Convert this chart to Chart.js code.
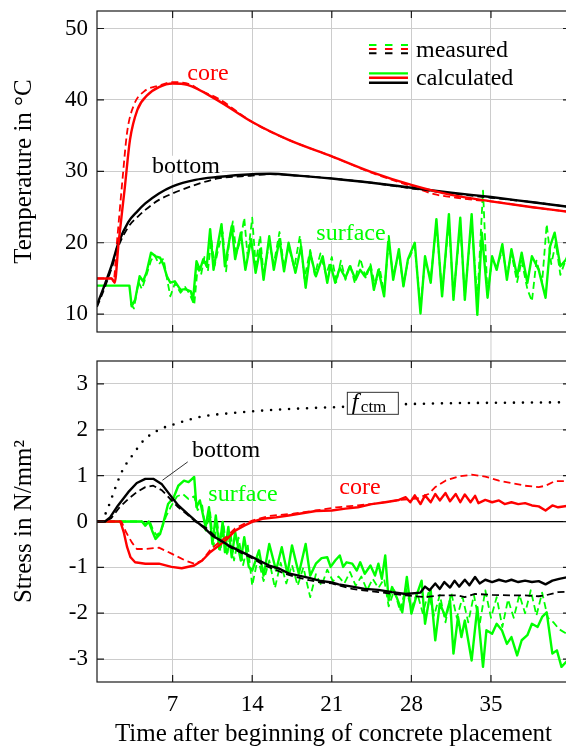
<!DOCTYPE html>
<html><head><meta charset="utf-8">
<script src="https://cdn.jsdelivr.net/npm/chart.js@4.4.1/dist/chart.umd.min.js"></script>
<style>
html,body{margin:0;padding:0;background:#fff;}
body{width:566px;height:747px;overflow:hidden;position:relative;}
canvas{position:absolute;left:0;}
#top{top:0}
#bot{top:340px}
</style></head><body>
<canvas id="top" width="570" height="340"></canvas>
<canvas id="bot" width="570" height="407"></canvas>
<script>
// ---------- tick labels ----------
const dayTicks = [7, 14, 21, 28, 35];
const tempTicks = [10, 20, 30, 40, 50];
const stressTicks = [-3, -2, -1, 0, 1, 2, 3];

// ---------- temperature [day, degC] ----------
const tempCoreCalc = [[0.35,15.0],[1.65,15.0],[1.9,14.4],[2.25,20.0],[2.8,27.8],[3.25,34.4],[3.9,38.6],[4.8,40.7],[5.8,41.8],[7.0,42.3],[8.3,42.1],[10.9,40.0],[14.0,36.9],[17.2,34.4],[21.0,32.1],[24.5,29.9],[28.0,28.1],[31.5,26.7],[35.0,25.8],[38.5,25.0],[42.0,24.3]];
const tempCoreMeas = [[0.35,15.0],[1.6,15.0],[1.8,14.6],[2.1,20.0],[2.6,29.0],[3.0,35.5],[3.6,39.3],[4.5,41.2],[5.8,42.0],[7.0,42.5],[8.5,42.2],[9.5,41.3],[11.0,40.2],[14.0,36.9],[17.2,34.4],[21.0,32.1],[24.5,29.8],[28.0,27.9],[30.0,26.8],[32.0,26.3],[33.5,26.0],[35.0,25.8],[38.5,25.0],[42.0,24.3]];
const tempBottomCalc = [[0.35,11.3],[1.0,14.0],[1.65,16.9],[2.24,20.0],[3.1,22.9],[3.9,24.4],[4.6,25.5],[5.8,26.9],[7.0,27.9],[9.0,28.8],[10.9,29.2],[14.0,29.6],[15.6,29.65],[18.0,29.4],[21.0,29.0],[24.5,28.4],[28.0,27.7],[31.5,27.0],[35.0,26.4],[38.5,25.7],[42.0,25.0]];
const tempBottomMeas = [[0.35,11.0],[1.0,13.6],[1.65,16.5],[2.24,19.5],[3.1,22.2],[3.9,23.6],[4.6,24.6],[5.8,26.0],[7.0,26.9],[9.0,28.1],[11.0,29.0],[14.0,29.4],[15.6,29.6],[18.0,29.4],[21.0,29.0],[24.5,28.4],[28.0,27.6],[31.5,26.9],[35.0,26.3],[38.5,25.7],[42.0,25.0]];
const tempSurfaceCalc = [[0.35,14.0],[3.2,14.0],[3.4,11.1],[3.7,12.0],[4.1,15.3],[4.4,14.6],[4.7,15.8],[5.1,18.6],[5.5,18.1],[5.9,17.9],[6.2,16.9],[6.5,15.3],[6.8,14.4],[7.2,14.6],[7.7,13.4],[8.1,13.5],[8.6,13.2],[8.8,12.0],[9.1,17.4],[9.4,16.2],[9.7,17.7],[10.0,16.7],[10.3,21.9],[10.6,16.2],[10.9,19.1],[11.3,22.6],[11.6,16.7],[11.9,19.5],[12.2,22.3],[12.5,17.7],[13.0,21.4],[13.4,16.2],[13.9,20.5],[14.3,15.8],[14.7,19.1],[15.0,14.8],[15.5,20.9],[15.9,16.2],[16.4,20.5],[16.8,16.0],[17.2,20.0],[17.8,15.8],[18.3,19.5],[18.7,13.7],[19.1,18.6],[19.6,15.3],[20.2,18.1],[20.6,14.4],[20.9,16.9],[21.3,14.4],[21.7,16.5],[22.2,15.1],[22.6,16.7],[23.1,14.8],[23.5,16.2],[23.9,15.3],[24.4,16.7],[24.7,13.4],[25.1,16.2],[25.6,12.5],[26.0,20.9],[26.4,14.8],[26.9,19.1],[27.3,13.9],[27.7,17.7],[28.3,20.0],[28.8,10.1],[29.2,18.1],[29.7,14.4],[30.2,23.3],[30.7,12.5],[31.3,24.0],[31.7,12.0],[32.3,23.5],[32.7,12.0],[33.3,24.0],[33.8,9.9],[34.2,21.4],[34.7,12.3],[35.1,18.1],[35.5,16.2],[36.0,19.8],[36.4,14.8],[36.8,19.1],[37.3,15.3],[37.7,18.6],[38.2,14.4],[38.6,18.1],[39.2,16.2],[39.8,12.3],[40.2,19.5],[40.6,21.4],[41.1,16.7],[42.0,18.4]];
const tempSurfaceMeas = [[3.3,11.5],[3.6,10.8],[4.0,14.5],[4.3,13.5],[4.7,15.5],[5.1,17.5],[5.4,18.3],[5.8,17.0],[6.2,17.8],[6.5,15.0],[6.8,12.5],[7.2,14.3],[7.7,13.0],[8.1,13.8],[8.5,12.8],[8.9,11.3],[9.2,16.5],[9.5,15.5],[9.8,18.0],[10.1,16.0],[10.4,20.5],[10.7,16.8],[11.0,19.0],[11.4,21.5],[11.7,16.0],[12.0,20.5],[12.3,23.0],[12.6,18.5],[13.0,20.5],[13.3,23.5],[13.6,18.0],[14.0,23.5],[14.3,17.0],[14.7,21.0],[15.0,15.5],[15.5,20.0],[15.9,17.0],[16.4,21.5],[16.8,16.5],[17.2,19.5],[17.7,16.5],[18.2,21.0],[18.6,15.0],[19.1,19.0],[19.5,15.5],[20.0,18.5],[20.5,15.5],[21.0,18.0],[21.4,14.5],[21.8,17.5],[22.2,14.8],[22.6,17.0],[23.0,14.5],[23.5,17.8],[24.0,15.0],[24.4,17.0],[24.8,14.0],[25.2,16.5],[25.6,13.0],[26.0,20.0],[26.4,15.5],[26.9,18.5],[27.3,14.0],[27.7,17.5],[28.3,19.5],[28.8,11.0],[29.2,17.5],[29.7,15.0],[30.2,22.5],[30.7,13.0],[31.3,23.0],[31.7,12.5],[32.3,22.5],[32.7,12.5],[33.3,23.0],[33.8,12.0],[34.3,27.3],[34.7,12.5],[35.1,18.0],[35.5,16.5],[36.0,19.0],[36.4,15.5],[36.8,18.5],[37.3,14.5],[37.7,17.5],[38.2,13.5],[38.6,11.8],[39.0,17.5],[39.5,14.5],[39.9,22.6],[40.3,17.0],[40.7,20.0],[41.1,15.5],[42.0,19.5]];

// ---------- stress [day, N/mm2] ----------
const stressBottomCalc = [[0.35,0],[1.06,0],[1.5,0.09],[2.2,0.35],[3.1,0.64],[3.85,0.84],[4.6,0.93],[5.3,0.93],[6.06,0.81],[6.8,0.57],[7.5,0.35],[8.3,0.17],[9.0,0.02],[9.7,-0.12],[10.5,-0.31],[11.2,-0.41],[11.9,-0.52],[12.8,-0.63],[13.7,-0.74],[14.6,-0.85],[15.5,-0.96],[16.4,-1.03],[17.2,-1.13],[18.1,-1.18],[19.0,-1.23],[19.9,-1.29],[21.0,-1.33],[21.6,-1.37],[22.8,-1.42],[23.9,-1.47],[25.1,-1.49],[26.3,-1.54],[27.5,-1.58],[28.8,-1.55],[29.2,-1.42],[29.6,-1.5],[30.1,-1.35],[30.5,-1.47],[30.9,-1.32],[31.4,-1.44],[31.8,-1.29],[32.2,-1.42],[32.7,-1.27],[33.1,-1.39],[33.6,-1.21],[34.0,-1.35],[34.5,-1.27],[35.1,-1.32],[35.7,-1.27],[36.3,-1.31],[36.8,-1.27],[37.4,-1.32],[38.0,-1.29],[38.6,-1.32],[39.2,-1.3],[39.8,-1.37],[40.4,-1.29],[41.0,-1.25],[42.0,-1.2]];
const stressBottomMeas = [[0.35,0],[1.1,0],[1.6,0.07],[2.3,0.3],[3.1,0.49],[3.85,0.64],[4.6,0.75],[5.3,0.78],[6.06,0.68],[6.8,0.49],[7.5,0.31],[8.3,0.15],[9.0,0.0],[10.0,-0.15],[11.0,-0.38],[12.0,-0.55],[13.0,-0.68],[14.0,-0.8],[15.0,-0.95],[16.0,-1.05],[17.0,-1.15],[18.0,-1.22],[19.0,-1.28],[20.0,-1.33],[21.0,-1.35],[22.8,-1.47],[25.1,-1.54],[27.5,-1.61],[29.2,-1.65],[30.5,-1.61],[32.1,-1.61],[32.7,-1.65],[33.6,-1.58],[35.1,-1.6],[36.8,-1.61],[38.0,-1.61],[39.2,-1.63],[39.8,-1.61],[40.9,-1.54],[42.0,-1.53]];
const stressCoreCalc = [[0.35,0],[2.4,0],[2.7,-0.23],[3.0,-0.56],[3.3,-0.78],[3.7,-0.89],[4.6,-0.92],[5.8,-0.92],[6.9,-0.99],[7.8,-1.02],[8.9,-0.96],[9.6,-0.85],[10.3,-0.67],[11.1,-0.52],[11.8,-0.38],[12.5,-0.2],[13.3,-0.09],[14.0,-0.01],[14.9,0.06],[16.1,0.09],[17.2,0.13],[18.4,0.18],[19.6,0.23],[21.0,0.24],[22.2,0.28],[23.3,0.31],[24.5,0.38],[25.7,0.42],[26.9,0.47],[27.5,0.53],[27.9,0.42],[28.3,0.57],[28.8,0.38],[29.2,0.57],[29.7,0.42],[30.1,0.6],[30.5,0.46],[31.0,0.62],[31.4,0.44],[31.9,0.6],[32.3,0.42],[32.7,0.59],[33.2,0.42],[33.6,0.56],[33.9,0.4],[34.5,0.47],[35.1,0.42],[35.7,0.46],[36.2,0.38],[36.8,0.42],[37.4,0.38],[38.0,0.4],[38.6,0.35],[39.2,0.33],[39.8,0.24],[40.4,0.35],[40.9,0.31],[42.0,0.35]];
const stressCoreMeas = [[0.35,0],[2.5,0],[2.9,-0.23],[3.4,-0.45],[3.85,-0.6],[4.6,-0.6],[5.8,-0.57],[6.9,-0.7],[8.1,-0.85],[8.9,-0.92],[9.6,-0.85],[10.3,-0.62],[11.1,-0.45],[11.8,-0.32],[12.5,-0.15],[13.3,-0.05],[14.0,0.02],[15.5,0.12],[17.6,0.17],[19.6,0.24],[21.4,0.31],[23.3,0.35],[25.1,0.4],[26.9,0.47],[28.5,0.5],[29.5,0.6],[30.1,0.75],[31.0,0.89],[32.1,0.98],[33.3,1.02],[34.5,0.98],[35.7,0.89],[36.8,0.84],[38.0,0.78],[39.2,0.75],[39.8,0.78],[40.6,0.88],[42.0,0.88]];
const stressSurfaceCalc = [[0.35,0],[4.3,0],[4.6,-0.09],[4.9,0],[5.2,-0.2],[5.5,-0.38],[5.9,-0.27],[6.2,-0.01],[6.6,0.38],[7.1,0.53],[7.5,0.78],[8.0,0.89],[8.4,0.86],[8.9,0.97],[9.1,0.31],[9.4,0.46],[9.9,-0.12],[10.2,0.31],[10.5,-0.49],[10.8,0.13],[11.1,-0.6],[11.4,-0.01],[11.6,-0.67],[11.9,-0.12],[12.2,-0.78],[12.5,-0.23],[13.0,-0.85],[13.3,-0.34],[13.7,-0.99],[14.0,-1.07],[14.6,-0.63],[15.0,-1.18],[15.5,-0.49],[16.1,-1.07],[16.6,-0.56],[17.1,-1.14],[17.5,-0.52],[18.1,-1.14],[18.7,-0.49],[19.1,-1.18],[19.6,-0.92],[20.1,-0.8],[20.6,-0.78],[20.9,-0.99],[21.3,-0.85],[21.7,-0.74],[22.0,-0.99],[22.3,-0.89],[22.8,-0.92],[23.2,-1.07],[23.5,-0.89],[23.9,-1.14],[24.4,-0.96],[24.8,-1.18],[25.1,-0.92],[25.4,-1.25],[25.7,-0.74],[26.0,-1.72],[26.3,-1.43],[26.7,-1.65],[27.2,-1.98],[27.6,-1.21],[28.0,-2.01],[28.5,-1.58],[28.9,-1.29],[29.2,-2.23],[29.7,-1.5],[30.1,-2.59],[30.5,-1.79],[31.0,-2.08],[31.4,-1.72],[31.7,-2.88],[32.1,-2.08],[32.4,-2.52],[32.7,-2.16],[33.3,-3.03],[33.8,-1.87],[34.3,-3.17],[34.6,-2.37],[35.1,-2.45],[35.5,-2.23],[35.96,-2.37],[36.4,-2.67],[36.8,-2.52],[37.3,-2.92],[37.7,-2.59],[38.2,-2.48],[38.6,-2.23],[39.1,-2.3],[39.5,-2.08],[39.9,-1.98],[40.4,-2.88],[40.8,-2.81],[41.2,-3.17],[42.0,-2.96]];
const stressSurfaceMeas = [[0.35,0],[4.3,0],[4.6,-0.05],[5.0,0],[5.3,-0.2],[5.6,-0.3],[6.0,-0.2],[6.4,0.1],[6.9,0.35],[7.4,0.55],[7.9,0.6],[8.4,0.49],[8.9,0.55],[9.2,0.25],[9.6,0.35],[9.9,-0.2],[10.3,0.2],[10.6,-0.55],[10.9,0.05],[11.2,-0.65],[11.5,-0.1],[11.8,-0.75],[12.1,-0.25],[12.4,-0.85],[12.8,-0.35],[13.2,-0.95],[13.6,-0.5],[14.0,-1.4],[14.5,-0.8],[15.0,-1.3],[15.5,-0.85],[16.0,-1.45],[16.5,-0.9],[17.0,-1.35],[17.5,-0.95],[18.0,-1.4],[18.5,-1.0],[19.1,-1.65],[19.6,-1.15],[20.1,-1.4],[20.6,-1.05],[21.1,-1.3],[21.6,-1.2],[22.1,-1.35],[22.6,-1.1],[23.1,-1.4],[23.6,-1.2],[24.1,-1.5],[24.6,-1.25],[25.1,-1.45],[25.6,-1.25],[26.0,-1.85],[26.5,-1.5],[27.0,-1.95],[27.5,-1.45],[28.0,-1.9],[28.5,-1.55],[29.0,-2.0],[29.5,-1.55],[30.0,-2.05],[30.5,-1.6],[31.0,-2.2],[31.5,-1.55],[32.0,-2.1],[32.5,-1.65],[33.0,-2.2],[33.5,-1.6],[34.0,-2.25],[34.5,-1.5],[35.0,-2.1],[35.5,-1.65],[36.0,-2.3],[36.5,-1.7],[37.0,-2.1],[37.5,-1.6],[38.0,-2.0],[38.5,-1.5],[39.0,-2.05],[39.5,-1.55],[40.0,-2.1],[40.5,-2.2],[41.0,-2.35],[42.0,-2.5]];
const fctm = [[0.8,0],[1.35,0.32],[2.0,0.76],[2.6,1.12],[3.6,1.49],[4.5,1.78],[5.8,2.0],[7.4,2.14],[9.6,2.29],[12.5,2.37],[15.6,2.43],[18.8,2.47],[22.0,2.5],[27.7,2.56],[31.5,2.58],[36.3,2.59],[42.0,2.6]];

// ---------- styling ----------
const RED = '#ff0000', GREEN = '#00ff00', BLACK = '#000000';
const FONT = '"Liberation Serif", "Times New Roman", serif';
const GRID = '#cccccc';
const X_MIN = 0.35, X_MAX = 41.95;

Chart.defaults.font.family = FONT;
Chart.defaults.color = '#000';

function ds(data, color, opt) {
  return Object.assign({
    data: data.map(p => ({ x: p[0], y: p[1] })),
    borderColor: color, borderWidth: 2.4, pointRadius: 0, fill: false,
    tension: 0, borderJoinStyle: 'round', borderCapStyle: 'butt'
  }, opt || {});
}
const SMOOTH = { cubicInterpolationMode: 'monotone' };
const MEAS = { borderWidth: 1.8, borderDash: [7, 4] };

function framePlugin(yTicksArr) {
  return {
    id: 'frame',
    afterDatasetsDraw(chart) {
      const { ctx, chartArea: a, scales: { x, y } } = chart;
      ctx.save();
      ctx.strokeStyle = '#1a1a1a';
      ctx.lineWidth = 1.2;
      ctx.strokeRect(a.left, a.top, a.right - a.left, a.bottom - a.top);
      ctx.beginPath();
      dayTicks.forEach(v => {
        const px = x.getPixelForValue(v);
        ctx.moveTo(px, a.top); ctx.lineTo(px, a.top + 7);
        ctx.moveTo(px, a.bottom); ctx.lineTo(px, a.bottom - 7);
      });
      yTicksArr.forEach(v => {
        const py = y.getPixelForValue(v);
        ctx.moveTo(a.left, py); ctx.lineTo(a.left + 7, py);
        ctx.moveTo(a.right, py); ctx.lineTo(a.right - 7, py);
      });
      ctx.stroke();
      ctx.restore();
    }
  };
}
function gapGridPlugin(isTop) {
  return {
    id: 'gapGrid',
    afterDraw(chart) {
      const { ctx, chartArea: a, scales: { x } } = chart;
      ctx.save();
      ctx.strokeStyle = GRID; ctx.lineWidth = 1;
      ctx.beginPath();
      dayTicks.forEach(v => {
        const px = x.getPixelForValue(v);
        if (isTop) { ctx.moveTo(px, a.bottom + 1); ctx.lineTo(px, chart.height); }
        else { ctx.moveTo(px, 0); ctx.lineTo(px, a.top - 1); }
      });
      ctx.stroke();
      ctx.restore();
    }
  };
}
function drawText(ctx, text, px, py, color, size, bg, align) {
  ctx.font = size + 'px ' + FONT;
  const w = ctx.measureText(text).width;
  const left = align === 'left' ? px : px - w / 2;
  if (bg) { ctx.fillStyle = '#fff'; ctx.fillRect(left - 2, py - size * 0.72, w + 4, size * 0.76); }
  ctx.fillStyle = color; ctx.textAlign = 'left'; ctx.textBaseline = 'alphabetic';
  ctx.fillText(text, left, py);
}
function annotPlugin(items) {
  return {
    id: 'annot',
    afterDatasetsDraw(chart) {
      const { ctx, scales: { x, y } } = chart;
      ctx.save();
      items.forEach(it => {
        if (it.type === 'text') {
          drawText(ctx, it.text, x.getPixelForValue(it.x), y.getPixelForValue(it.y), it.color, it.size || 24, it.bg, it.align);
        } else if (it.type === 'line') {
          ctx.strokeStyle = it.color; ctx.lineWidth = it.width; ctx.setLineDash(it.dash || []);
          ctx.lineCap = it.cap || 'butt';
          ctx.beginPath();
          ctx.moveTo(x.getPixelForValue(it.x1), y.getPixelForValue(it.y1));
          ctx.lineTo(x.getPixelForValue(it.x2), y.getPixelForValue(it.y2));
          ctx.stroke();
          ctx.setLineDash([]);
        } else if (it.type === 'fbox') {
          const cx = x.getPixelForValue(it.x), cy = y.getPixelForValue(it.y);
          const w = 52, h = 23;
          ctx.fillStyle = '#fff'; ctx.fillRect(cx - w / 2, cy - h / 2, w, h);
          ctx.strokeStyle = '#333'; ctx.lineWidth = 1; ctx.strokeRect(cx - w / 2 + 0.5, cy - h / 2 + 0.5, w - 1, h - 1);
          ctx.fillStyle = '#000'; ctx.textBaseline = 'alphabetic'; ctx.textAlign = 'left';
          ctx.font = 'italic 24px ' + FONT;
          ctx.fillText('f', cx - 21, cy + 6);
          ctx.font = '17px ' + FONT;
          ctx.fillText('ctm', cx - 12, cy + 9);
        }
      });
      ctx.restore();
    }
  };
}

function makeOptions(cfg) {
  return {
    responsive: false, animation: false, devicePixelRatio: 1,
    layout: { padding: { top: cfg.padTop, right: 0, bottom: 0, left: 0 } },
    plugins: { legend: { display: false }, tooltip: { enabled: false } },
    scales: {
      x: {
        type: 'linear', min: X_MIN, max: X_MAX,
        afterBuildTicks: s => { s.ticks = dayTicks.map(v => ({ value: v })); },
        afterFit: s => { s.height = cfg.xHeight; s.paddingLeft = 0; s.paddingRight = 0; },
        grid: { color: GRID, lineWidth: 1, drawTicks: false },
        border: { display: false },
        ticks: { display: cfg.showX, autoSkip: false, maxRotation: 0, padding: 9, font: { size: 23 }, callback: v => String(v) },
        title: cfg.showX ? { display: true, text: 'Time after beginning of concrete placement', font: { size: 25, lineHeight: 1.0 }, padding: { top: 0, bottom: 0 } } : { display: false }
      },
      y: {
        type: 'linear', min: cfg.yMin, max: cfg.yMax,
        afterBuildTicks: s => { s.ticks = cfg.yTicks.map(v => ({ value: v })); },
        afterFit: s => { s.width = 97; s.paddingTop = 0; s.paddingBottom = 0; },
        grid: { color: c => (cfg.zeroLine && c.tick && c.tick.value === 0) ? '#000' : GRID, lineWidth: c => (cfg.zeroLine && c.tick && c.tick.value === 0) ? 1.2 : 1, drawTicks: false },
        border: { display: false },
        ticks: { padding: 9, font: { size: 23 }, callback: v => String(v) },
        title: { display: true, text: cfg.yTitle, font: { size: 25, lineHeight: 1.0 }, padding: { top: 12, bottom: 0 } }
      }
    }
  };
}

// ---------- top: temperature ----------
new Chart(document.getElementById('top'), {
  type: 'line',
  data: {
    datasets: [
      ds(tempCoreCalc, RED, SMOOTH),
      ds(tempBottomCalc, BLACK, SMOOTH),
      ds(tempCoreMeas, RED, Object.assign({}, SMOOTH, MEAS)),
      ds(tempBottomMeas, BLACK, Object.assign({}, SMOOTH, MEAS)),
      ds(tempSurfaceCalc, GREEN),
      ds(tempSurfaceMeas, GREEN, MEAS)
    ]
  },
  options: makeOptions({ padTop: 11, xHeight: 8, showX: false, yMin: 7.5, yMax: 52.45, yTicks: tempTicks, yTitle: 'Temperature in °C', zeroLine: false }),
  plugins: [
    annotPlugin([
      { type: 'text', text: 'core', x: 10.11, y: 42.79, color: RED },
      { type: 'text', text: 'bottom', x: 8.18, y: 29.76, color: BLACK, bg: true },
      { type: 'text', text: 'surface', x: 22.69, y: 20.38, color: GREEN, bg: true },
      { type: 'line', x1: 24.27, y1: 47.69, x2: 27.7, y2: 47.69, color: GREEN, width: 2, dash: [7.5, 8.5] },
      { type: 'line', x1: 24.27, y1: 47.13, x2: 27.7, y2: 47.13, color: RED, width: 2, dash: [7.5, 8.5] },
      { type: 'line', x1: 24.27, y1: 46.53, x2: 27.7, y2: 46.53, color: BLACK, width: 2, dash: [7.5, 8.5] },
      { type: 'line', x1: 24.27, y1: 43.72, x2: 27.7, y2: 43.72, color: GREEN, width: 2.4 },
      { type: 'line', x1: 24.27, y1: 43.11, x2: 27.7, y2: 43.11, color: RED, width: 2.4 },
      { type: 'line', x1: 24.27, y1: 42.41, x2: 27.7, y2: 42.41, color: BLACK, width: 2.4 },
      { type: 'text', text: 'measured', x: 28.41, y: 46.01, color: BLACK, align: 'left' },
      { type: 'text', text: 'calculated', x: 28.41, y: 42.09, color: BLACK, align: 'left' }
    ]),
    framePlugin(tempTicks),
    gapGridPlugin(true)
  ]
});

// ---------- bottom: stress ----------
new Chart(document.getElementById('bot'), {
  type: 'line',
  data: {
    datasets: [
      ds(stressBottomCalc, BLACK),
      ds(stressCoreCalc, RED),
      ds(stressBottomMeas, BLACK, MEAS),
      ds(stressCoreMeas, RED, MEAS),
      ds(stressSurfaceCalc, GREEN),
      ds(stressSurfaceMeas, GREEN, MEAS),
      ds(fctm, BLACK, Object.assign({}, SMOOTH, { borderWidth: 2.6, borderDash: [0, 9], borderCapStyle: 'round' }))
    ]
  },
  options: makeOptions({ padTop: 21, xHeight: 65, showX: true, yMin: -3.5, yMax: 3.5, yTicks: stressTicks, yTitle: 'Stress in N/mm²', zeroLine: true }),
  plugins: [
    annotPlugin([
      { type: 'line', x1: 6.11, y1: 0.9, x2: 8.33, y2: 1.3, color: BLACK, width: 0.8 },
      { type: 'text', text: 'bottom', x: 11.7, y: 1.41, color: BLACK },
      { type: 'text', text: 'surface', x: 13.19, y: 0.452, color: GREEN },
      { type: 'text', text: 'core', x: 23.48, y: 0.598, color: RED },
      { type: 'fbox', x: 24.61, y: 2.577 }
    ]),
    framePlugin(stressTicks),
    gapGridPlugin(false)
  ]
});
</script></body></html>
